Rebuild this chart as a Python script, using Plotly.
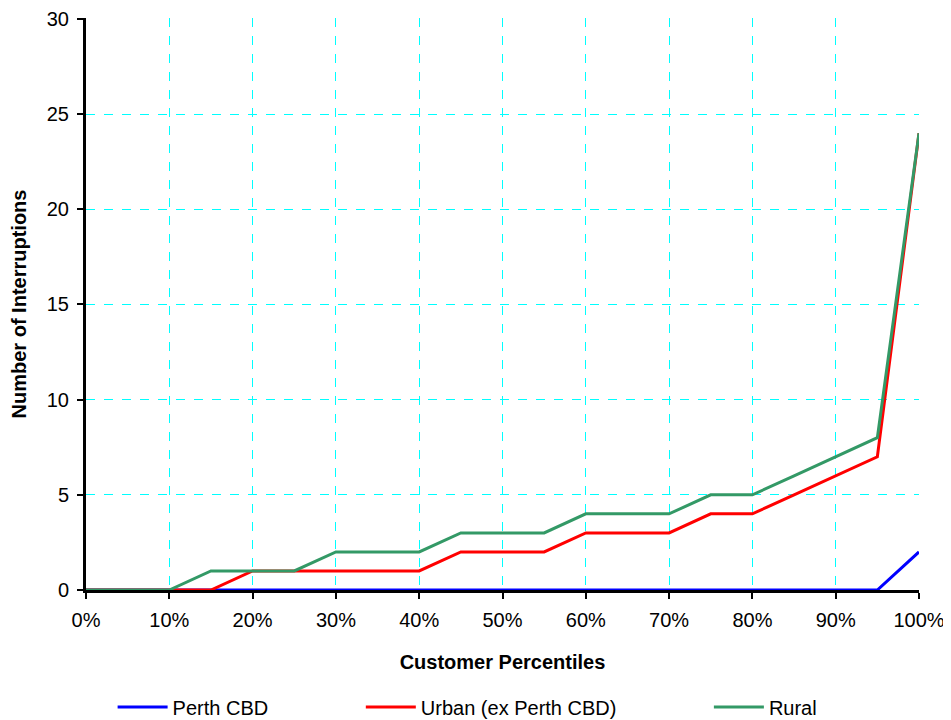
import plotly.graph_objects as go

percentiles = [0, 5, 10, 15, 20, 25, 30, 35, 40, 45, 50, 55, 60, 65, 70, 75, 80, 85, 90, 95, 100]
perth_cbd = [0, 0, 0, 0, 0, 0, 0, 0, 0, 0, 0, 0, 0, 0, 0, 0, 0, 0, 0, 0, 2]
urban = [0, 0, 0, 0, 1, 1, 1, 1, 1, 2, 2, 2, 3, 3, 3, 4, 4, 5, 6, 7, 24]
rural = [0, 0, 0, 1, 1, 1, 2, 2, 2, 3, 3, 3, 4, 4, 4, 5, 5, 6, 7, 8, 24]

x_ticks = [0, 10, 20, 30, 40, 50, 60, 70, 80, 90, 100]
x_tick_labels = ["0%", "10%", "20%", "30%", "40%", "50%", "60%", "70%", "80%", "90%", "100%"]
y_ticks = [0, 5, 10, 15, 20, 25, 30]

series = [
    ("Perth CBD", perth_cbd, "#0000FF", "legend"),
    ("Urban (ex Perth CBD)", urban, "#FF0000", "legend2"),
    ("Rural", rural, "#339966", "legend3"),
]

FONT = "Liberation Sans, Arial, sans-serif"

fig = go.Figure()
for name, vals, color, lg in series:
    fig.add_trace(go.Scatter(
        x=percentiles, y=vals, name=name, mode="lines",
        line=dict(color=color, width=3), legend=lg,
    ))

legend_common = dict(orientation="h", xref="container", yref="container",
                     yanchor="middle", y=0.029, xanchor="left",
                     font=dict(family=FONT, size=20, color="#000000"),
                     bgcolor="rgba(0,0,0,0)", itemwidth=50)

fig.update_layout(
    width=951, height=720,
    margin=dict(l=78, r=40, t=10, b=138),
    paper_bgcolor="white", plot_bgcolor="white",
    font=dict(family=FONT, size=20, color="#000000"),
    showlegend=True,
    legend=dict(**legend_common, x=0.110),
    legend2=dict(**legend_common, x=0.371),
    legend3=dict(**legend_common, x=0.737),
    xaxis=dict(
        range=[0, 100], tickmode="array", tickvals=x_ticks, ticktext=x_tick_labels,
        showgrid=True, gridcolor="#00FFFF", griddash="dash", gridwidth=1,
        showline=True, linecolor="#000000", linewidth=2.5,
        ticks="outside", ticklen=6, tickwidth=2, tickcolor="#000000",
        zeroline=False, tickfont=dict(size=20), ticklabelstandoff=4,
        automargin=False, ticklabeloverflow="allow",
        title=dict(text="<b>Customer Percentiles</b>", font=dict(size=20), standoff=26),
    ),
    yaxis=dict(
        range=[0, 30.05], tickmode="array", tickvals=y_ticks,
        showgrid=True, gridcolor="#00FFFF", griddash="dash", gridwidth=1,
        showline=True, linecolor="#000000", linewidth=3,
        ticks="outside", ticklen=6, tickwidth=2, tickcolor="#000000",
        zeroline=False, tickfont=dict(size=20), ticklabelstandoff=4,
        automargin=False, ticklabeloverflow="allow",
        title=dict(text="<b>Number of Interruptions</b>", font=dict(size=20), standoff=18),
    ),
)

fig.write_html("out.html")
